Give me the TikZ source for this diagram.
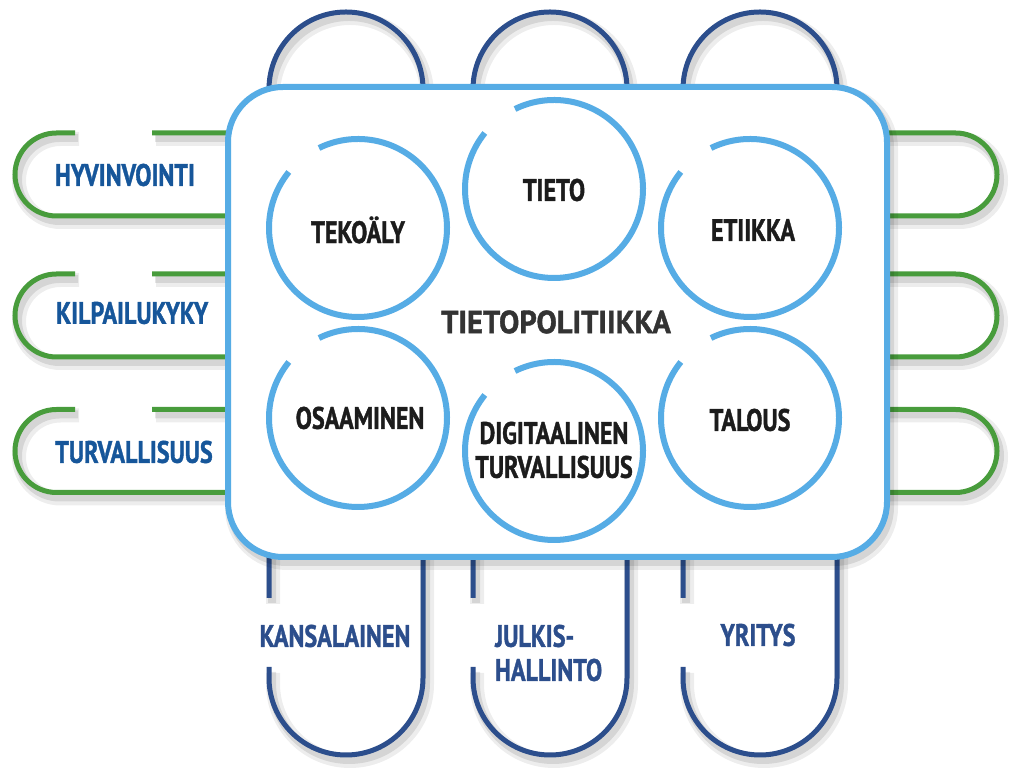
\documentclass[tikz,border=0pt]{standalone}
\usepackage{fontspec}
\setmainfont{PT Sans}[FakeStretch=0.78,BoldFeatures={FakeBold=1.2}]
\newfontfamily\wideface{PT Sans}[FakeStretch=0.95,BoldFeatures={FakeBold=1.2}]
\usepackage{tikz}

\definecolor{ringblue}{RGB}{86,172,229}
\definecolor{ribgreen}{RGB}{72,156,60}
\definecolor{colnavy}{RGB}{44,78,140}
\definecolor{rowblue}{RGB}{22,86,154}
\definecolor{inkgray}{RGB}{51,51,51}
\definecolor{inkblack}{RGB}{28,28,28}

\tikzset{
  castshadow/.style={preaction={draw=black,draw opacity=0.07,line width=14,
      transform canvas={shift={(4pt,-6pt)}}},
    preaction={draw=black,draw opacity=0.10,line width=8,
      transform canvas={shift={(3pt,-5pt)}}}},
  colrib/.style={draw=colnavy,line width=5,castshadow},
  rowrib/.style={draw=ribgreen,line width=5,castshadow},
  ring/.style={draw=ringblue,line width=6},
  lbl/.style={font=\fontsize{31}{34}\selectfont\bfseries,inner sep=0pt},
  rowlbl/.style={lbl,text=rowblue,anchor=west},
  collbl/.style={lbl,text=colnavy},
  topic/.style={lbl,text=inkblack,align=center},
  board/.style={draw=ringblue,fill=white,line width=6,rounded corners=55,
    minimum width=659,minimum height=470,castshadow}
}

\begin{document}
\begin{tikzpicture}[x=1pt,y=1pt]
\useasboundingbox (0,0) rectangle (1024,783);
% columns behind the board:
\path[colrib] (269,185) -- (269,694) arc[start angle=180,end angle=0,radius=77]
  -- (423,105) arc[start angle=0,end angle=-180,radius=77] -- (269,116);
\path[colrib] (473,185) -- (473,694) arc[start angle=180,end angle=0,radius=77]
  -- (627,105) arc[start angle=0,end angle=-180,radius=77] -- (473,116);
\path[colrib] (683,185) -- (683,694) arc[start angle=180,end angle=0,radius=77]
  -- (837,105) arc[start angle=0,end angle=-180,radius=77] -- (683,116);
% rows behind the board:
\path[rowrib] (152,650) -- (955.5,650) arc[start angle=90,end angle=-90,radius=41.5]
  -- (56.5,567) arc[start angle=270,end angle=90,radius=41.5] -- (75,650);
\path[rowrib] (152,509) -- (955.5,509) arc[start angle=90,end angle=-90,radius=41.5]
  -- (56.5,426) arc[start angle=270,end angle=90,radius=41.5] -- (75,509);
\path[rowrib] (152,373.5) -- (955.5,373.5) arc[start angle=90,end angle=-90,radius=41.5]
  -- (56.5,290.5) arc[start angle=270,end angle=90,radius=41.5] -- (75,373.5);
% row and column labels:
\node[rowlbl] (hyvinvointi) at (55,608) {HYVINVOINTI};
\node[rowlbl] (kilpailukyky) at (56,470) {KILPAILUKYKY};
\node[rowlbl] (turvallisuus) at (55,331) {TURVALLISUUS};
\node[collbl] (kansalainen) at (335,147) {KANSALAINEN};
\node[collbl,align=left,anchor=west] (julkishallinto) at (495,130) {JULKIS-\\HALLINTO};
\node[collbl] (yritys) at (758,148) {YRITYS};
% the board:
\node[board] (tietopolitiikka) at (557.5,461) {};
\node[lbl,font=\fontsize{32}{34}\selectfont\wideface\bfseries,text=inkgray]
  (otsikko) at (556,461) {TIETOPOLITIIKKA};
% rings:
\node[topic] (tekoaly) at (358,553) {TEKOÄLY};
\path[ring] (358,555) ++(141:89) arc[start angle=141,end angle=476,radius=89];
\node[topic] (tieto) at (554,593) {TIETO};
\path[ring] (554,594) ++(141:89) arc[start angle=141,end angle=476,radius=89];
\node[topic] (etiikka) at (753,553) {ETIIKKA};
\path[ring] (750,555) ++(141:89) arc[start angle=141,end angle=476,radius=89];
\node[topic] (osaaminen) at (360,365) {OSAAMINEN};
\path[ring] (358,365) ++(141:89) arc[start angle=141,end angle=476,radius=89];
\node[topic] (digiturva) at (554,333) {DIGITAALINEN\\TURVALLISUUS};
\path[ring] (554,332) ++(141:89) arc[start angle=141,end angle=476,radius=89];
\node[topic] (talous) at (750,363) {TALOUS};
\path[ring] (750,365) ++(141:89) arc[start angle=141,end angle=476,radius=89];
\end{tikzpicture}
\end{document}
